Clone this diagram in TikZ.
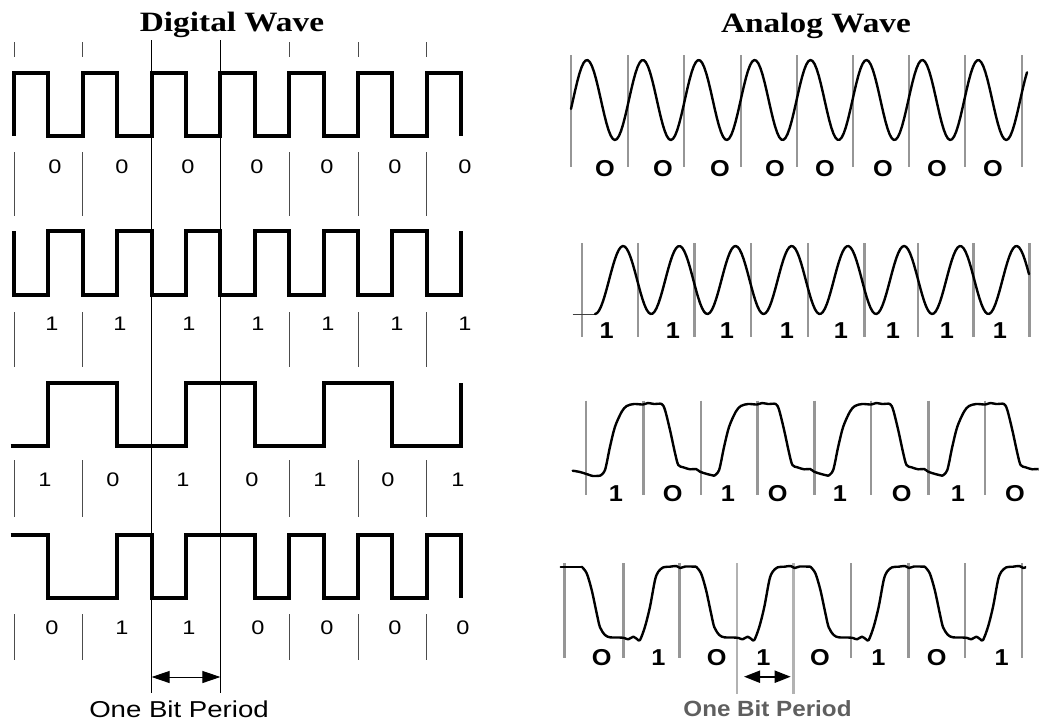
\documentclass[tikz,border=0pt]{standalone}
\usepackage{fontspec}
\usetikzlibrary{arrows.meta}
\newfontfamily\titlefont[FakeStretch=1.19]{Liberation Serif}
\newfontfamily\lsans[FakeStretch=1.2]{Liberation Sans}
\newfontfamily\lsansb[FakeStretch=1.1]{Liberation Sans}
\definecolor{glc}{RGB}{150,150,150}
\definecolor{periodgray}{RGB}{95,95,95}
\tikzset{
  dig/.style={line width=4pt, line join=miter},
  tickln/.style={line width=1pt, black!70},
  longln/.style={line width=1pt, black},
  ana/.style={line width=2.4pt, line join=round, line cap=round},
  gl/.style={line width=2.4pt, glc},
  lbl/.style={inner sep=0pt, font={\lsans\fontsize{19.6}{20}\selectfont}},
  rlbl/.style={inner sep=0pt, font={\lsansb\bfseries\fontsize{23}{24}\selectfont}},
  ttl/.style={inner sep=0pt, anchor=base, font={\titlefont\bfseries\fontsize{28}{30}\selectfont}},
}
\begin{document}
\begin{tikzpicture}[x=1pt,y=-1pt]
\useasboundingbox (0,0) rectangle (1039,721);
% titles
\node[ttl] (tdig) at (232,31.7) {Digital Wave};
\node[ttl] (tana) at (816,32.3) {Analog Wave};

% ---------------- digital side ----------------
% ticks
\foreach \x in {14,82.8,289.2,358,426.8}{
  \draw[tickln] (\x,42) -- (\x,57);
  \draw[tickln] (\x,152) -- (\x,216);
  \draw[tickln] (\x,312) -- (\x,367);
  \draw[tickln] (\x,460) -- (\x,517);
  \draw[tickln] (\x,614) -- (\x,660);
}
\draw[longln] (151.6,40) -- (151.6,693);
\draw[longln] (220.4,40) -- (220.4,693);

% row 1 : 0000000
\draw[dig] (14,135.7) |- (48.4,73) |- (82.8,135.7) |- (117.2,73) |- (151.6,135.7) |- (186,73)
  |- (220.4,135.7) |- (254.8,73) |- (289.2,135.7) |- (323.6,73) |- (358,135.7) |- (392.4,73)
  |- (426.8,135.7) |- (461.2,73) -- (461.2,135.7);
% row 2 : 1111111
\draw[dig] (14,231) |- (48.4,295) |- (82.8,231) |- (117.2,295) |- (151.6,231) |- (186,295)
  |- (220.4,231) |- (254.8,295) |- (289.2,231) |- (323.6,295) |- (358,231) |- (392.4,295)
  |- (426.8,231) |- (461.2,295) -- (461.2,231);
% row 3 : 1010101
\draw[dig] (10.7,446) -| (48.4,383) -| (117.2,446) -| (186,383) -| (254.8,446) -| (323.6,383)
  -| (392.4,446) -| (461.2,383);
% row 4 : 0110000
\draw[dig] (10.7,535) -| (48.4,598) -| (117.2,535) -| (151.6,598) -| (186,535) -| (254.8,598)
  -| (289.2,535) -| (323.6,598) -| (358,535) -| (392.4,598) -| (426.8,535) -| (461.2,598);

% labels
\foreach \x [count=\i] in {55,122,188,257,327,395,465}
  \node[lbl] (da\i) at (\x,166.3) {0};
\foreach \x [count=\i] in {52,120,189,258,328,397,465}
  \node[lbl] (db\i) at (\x,324) {1};
\foreach \x/\t [count=\i] in {45/1,113/0,183/1,252/0,320/1,388/0,458/1}
  \node[lbl] (dc\i) at (\x,480) {\t};
\foreach \x/\t [count=\i] in {52/0,122/1,189/1,258/0,327/0,395/0,463/0}
  \node[lbl] (dd\i) at (\x,627.5) {\t};

% one bit period (digital)
\coordinate (la) at (151.6,677);
\coordinate (lb) at (220.4,677);
\draw[line width=1pt, {Triangle[length=18pt,width=12pt]}-{Triangle[length=18pt,width=12pt]}] (la) -- (lb);
\node[inner sep=0pt, anchor=base, font={\lsans\fontsize{23}{24}\selectfont}] (lper) at (179,717) {One Bit Period};

% ---------------- analog side ----------------
% gray bit lines
\foreach \x in {571,627.7,684,741,796.7,852.7,909,965,1021.7}
  \draw[gl] (\x,55) -- (\x,167);
\foreach \x in {581.7,637.7,694.3,751,807.7,864.3,917.7,973.3,1029.3}
  \draw[gl] (\x,243) -- (\x,337);
\foreach \x in {586,643.3,700.7,757.3,814.3,871,928.3,985}
  \draw[gl] (\x,400.7) -- (\x,495);
\foreach \x in {564.3,623.3,679.3,851,908.3,965,1021.7}
  \draw[gl] (\x,563) -- (\x,658);
\draw[gl, black!30] (736.7,563) -- (736.7,694);
\draw[gl, black!30] (793.3,563) -- (793.3,694);

% row 1 analog
\draw[ana] plot[domain=571:1027, samples=220] (\x, {100 - 40*sin((\x-573)/55.9*360)});
% row 2 analog
\draw[line width=1.5pt, black!75] (572.7,314.5) -- (595,314.5);
\draw[ana] plot[domain=595:1029, samples=220] (\x, {280 + 34*cos((\x-595)/56.2*360)});

% row 3 analog (1010...)
\begin{scope}
\clip (560,380) rectangle (1038.5,500);
\draw[ana] plot[smooth, tension=0.5] coordinates {(572.7,470.7) (580,472) (588,474.5) (593,476) (600,475.7)};
\foreach \k in {0,...,3}{
  \pgfmathsetmacro\B{586+114.1*\k}
  \draw[ana] plot[smooth, tension=0.5] coordinates {({\B+14},475.7) ({\B+19},470) ({\B+24},446.7) ({\B+29},426.7)
    ({\B+35.7},411.7) ({\B+40.7},406) ({\B+48},404) ({\B+57},404.5) ({\B+62},403) ({\B+68},404) ({\B+75.7},404)
    ({\B+79},410) ({\B+84},430) ({\B+89},453) ({\B+92.3},465) ({\B+97.3},467.3) ({\B+104},469.3) ({\B+110},469) ({\B+114},471.7)
    ({\B+121},474) ({\B+128},475.7)};
}
\end{scope}

% row 4 analog (0101...)
\begin{scope}
\clip (555,540) rectangle (1026,660);
\draw[ana] (560.7,566.7) -- (581.7,566.7);
\foreach \k in {0,...,3}{
  \pgfmathsetmacro\L{564.3+114.35*\k}
  \draw[ana] plot[smooth, tension=0.5] coordinates {({\L+17.4},566.7) ({\L+22.4},573.3) ({\L+27.4},590) ({\L+32.4},613.3)
    ({\L+35.7},627.3) ({\L+40.7},635) ({\L+45.7},637.3) ({\L+55},637.5) ({\L+60},638) ({\L+64},639.3) ({\L+69},636.7)
    ({\L+73},639.3) ({\L+75.7},640) ({\L+80.7},626.7) ({\L+85.7},606.7) ({\L+90.7},580) ({\L+94},571.7) ({\L+99},567.3)
    ({\L+105.7},566.7) ({\L+112},566) ({\L+116},568) ({\L+121},566.5) ({\L+131.75},566.7)};
}
\end{scope}

% analog labels
\foreach \x [count=\i] in {605,663,720,775,825,883,937,993}
  \node[rlbl] (aa\i) at (\x,168.8) {O};
\foreach \x [count=\i] in {606.7,673,727,787,841,893,947,1000}
  \node[rlbl] (ab\i) at (\x,331) {1};
\foreach \x/\t [count=\i] in {616/1,672.7/O,728/1,777.7/O,840/1,901.7/O,958/1,1015/O}
  \node[rlbl] (ac\i) at (\x,494) {\t};
\foreach \x/\t [count=\i] in {601.7/O,658.3/1,716.7/O,763.3/1,820/O,878.3/1,936.7/O,1001.7/1}
  \node[rlbl] (ad\i) at (\x,658) {\t};

% one bit period (analog)
\coordinate (ra) at (744,676.7);
\coordinate (rb) at (790.7,676.7);
\draw[line width=2pt, {Triangle[length=16pt,width=12pt]}-{Triangle[length=16pt,width=12pt]}] (ra) -- (rb);
\node[inner sep=0pt, anchor=base, text=periodgray, font={\lsansb\bfseries\fontsize{22}{23}\selectfont}] (rper) at (767.5,716.7) {One Bit Period};
\end{tikzpicture}
\end{document}
